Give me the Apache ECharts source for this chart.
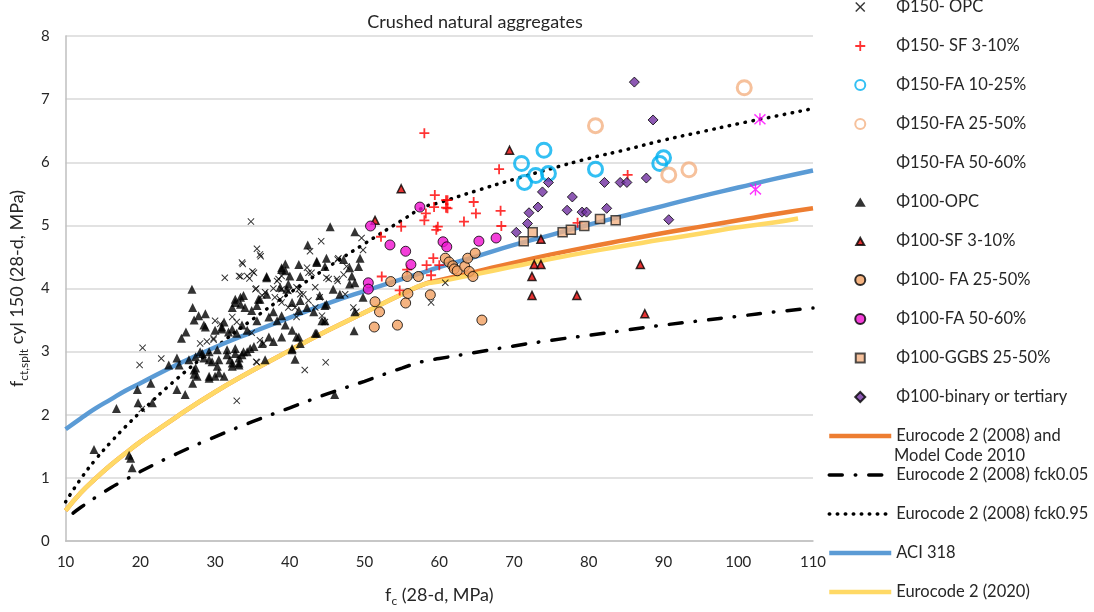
<!DOCTYPE html>
<html>
<head>
<meta charset="utf-8">
<script src="https://cdn.jsdelivr.net/npm/echarts@6/dist/echarts.min.js"></script>
<style>
  html, body { margin: 0; padding: 0; background: #fff; }
  #chart { width: 1094px; height: 612px; }
</style>
</head>
<body>
<div id="chart"></div>
<script>
// --- data: [fc (MPa), fct,splt (MPa)] ---
const opc150 = [
  [20.3,3.06],[19.9,2.79],[22.8,2.89],[20.2,2.09],[32.9,2.22],[35.6,2.83],[28.0,3.13],[28.9,3.16],[29.8,3.19],
  [34.8,5.06],[35.6,4.63],[36.1,4.51],[33.7,4.39],[35.0,4.27],[31.3,4.17],[33.4,4.19],[34.6,4.16],[35.5,4.00],
  [36.3,3.89],[38.5,4.15],[37.8,4.00],[38.9,3.99],[38.0,3.86],[38.7,3.83],[39.8,3.96],[40.9,4.02],[41.4,3.91],
  [42.7,4.59],[42.3,4.33],[42.5,4.25],[44.2,4.75],[44.9,4.17],[46.4,4.46],[46.4,4.12],[44.0,3.86],[44.3,3.57],
  [44.7,3.47],[44.8,2.83],[42.0,2.71],[35.5,2.84],[30.0,3.49],[30.7,3.44],[29.8,3.21],[36.0,3.18],[36.5,3.13],
  [34.9,3.30],[32.3,3.55],[32.9,3.47],[38.9,3.78],[39.8,3.70],[40.7,3.70],[40.9,3.55],[42.5,3.81],[43.4,3.70],
  [33.6,4.41],[36.0,4.54],[33.2,4.20],[34.3,4.20],[35.2,4.25],[35.4,3.99],[36.7,3.94],[38.3,4.12],[38.9,4.20],
  [42.9,4.25],[45.2,4.15],[43.4,4.02],[41.2,3.99],[41.8,3.91],[49.6,4.80],[49.8,4.61],[46.5,4.48],[47.6,4.35],
  [47.2,4.22],[46.3,4.15],[47.4,3.91],[48.5,3.70],[48.9,3.63],[58.9,3.78],[60.8,4.09]
];
const sf150 = [
  [58.0,6.46],[59.4,5.48],[60.9,5.40],[60.9,5.28],[59.3,5.29],[64.6,5.37],[64.9,5.19],[58.2,5.19],[61.1,5.40],
  [61.1,5.27],[58.0,5.08],[63.3,5.06],[59.8,4.98],[59.6,4.93],[54.9,4.98],[52.2,4.82],[59.2,4.48],[58.3,4.37],
  [60.0,4.37],[58.9,4.21],[52.3,4.19],[54.7,3.97],[55.7,4.30],[68.0,5.89],[68.2,5.23],[68.3,4.99],[78.5,5.04],
  [85.2,5.80]
];
const fa150Low = [[71.0,5.98],[74.0,6.19],[71.4,5.68],[72.9,5.79],[74.6,5.82],[80.9,5.89],[90.0,6.07],[89.5,5.98]];
const fa150Mid = [[80.9,6.58],[100.8,7.18],[90.7,5.80],[93.4,5.88]];
const fa150High = [[102.9,6.68],[102.3,5.57]];
const opc100 = [
  [26.1,3.31],[25.5,3.21],[13.8,1.45],[16.8,2.10],[18.5,1.36],[18.7,1.31],[18.9,1.16],[19.6,2.40],[19.7,2.19],
  [21.4,2.50],[21.6,2.19],[23.8,2.79],[24.9,2.90],[25.2,2.79],[24.9,2.40],[26.0,2.32],[27.2,2.71],[27.6,2.61],
  [27.0,2.50],[28.0,3.00],[28.5,2.90],[29.2,2.87],[29.2,2.61],[30.0,2.61],[30.5,2.66],[30.3,2.77],[31.2,2.61],
  [31.6,2.95],[32.0,2.87],[32.7,2.97],[33.2,2.90],[33.6,2.95],[34.3,3.00],[32.3,2.77],[33.2,2.82],[34.7,3.05],
  [35.2,3.08],[31.8,3.31],[32.9,3.29],[30.0,3.34],[30.9,3.36],[28.7,3.39],[26.9,3.99],[27.0,3.70],[27.8,3.57],
  [27.2,3.50],[45.4,4.98],[42.4,4.69],[43.6,4.43],[44.9,4.48],[41.2,4.38],[39.4,4.39],[38.9,4.30],[36.9,4.19],
  [40.0,4.20],[41.4,4.19],[39.8,4.07],[39.6,3.99],[38.7,4.02],[36.9,3.91],[35.8,3.83],[33.8,3.89],[32.7,3.83],
  [33.4,3.75],[32.3,3.70],[28.7,3.60],[28.5,3.42],[31.2,3.47],[30.9,3.39],[33.6,3.42],[34.3,3.34],[32.3,3.36],
  [35.6,3.49],[37.2,3.55],[37.8,3.63],[38.3,3.49],[38.9,3.57],[39.4,3.42],[40.3,3.34],[40.9,3.23],[41.2,3.65],
  [42.3,3.70],[43.2,3.63],[44.7,3.73],[44.3,3.49],[43.6,3.29],[37.2,3.23],[37.8,3.16],[38.9,3.23],[36.3,3.13],
  [33.8,3.00],[32.7,3.05],[31.6,3.03],[30.3,3.03],[29.2,3.00],[28.3,2.97],[27.4,2.92],[30.5,2.87],[29.6,2.84],
  [29.2,2.58],[27.4,2.74],[27.2,2.64],[26.5,2.87],[32.3,2.82],[33.2,2.79],[36.7,2.87],[40.3,3.03],[40.7,2.88],
  [41.2,3.23],[41.4,3.13],[34.0,3.70],[34.9,3.65],[38.9,4.33],[39.4,4.28],[43.6,4.41],[36.9,4.17],[33.4,3.86],
  [32.7,3.78],[36.0,3.83],[35.6,3.73],[40.3,3.78],[41.4,3.81],[44.0,3.89],[43.4,3.29],[40.3,3.05],[48.7,4.90],
  [44.7,4.35],[47.2,4.46],[48.0,4.33],[49.4,4.48],[49.2,4.35],[48.3,4.20],[48.7,4.09],[48.0,4.07],[45.8,3.99],
  [46.7,3.91],[44.9,3.75],[44.7,3.49],[49.8,3.86],[48.7,3.63],[48.6,3.33],[46.0,2.32]
];
const sf100 = [
  [69.4,6.19],[73.6,4.78],[72.7,4.38],[73.6,4.38],[72.4,4.19],[72.4,3.89],[78.4,3.89],[86.9,4.38],[87.5,3.60],
  [54.9,5.58],[51.4,5.08]
];
const fa100Mid = [
  [53.5,4.11],[55.7,4.19],[57.2,4.19],[55.8,3.92],[55.5,3.77],[51.4,3.79],[52.0,3.63],[51.3,3.39],[54.4,3.42],
  [58.8,3.90],[60.8,4.48],[61.3,4.42],[61.8,4.36],[62.0,4.31],[62.4,4.28],[63.4,4.35],[63.8,4.48],[64.8,4.56],
  [64.0,4.27],[64.5,4.19],[65.7,3.50]
];
const fa100High = [
  [50.8,4.99],[57.4,5.29],[53.4,4.69],[55.5,4.59],[56.2,4.38],[50.5,4.09],[50.5,3.99],[60.5,4.74],[61.0,4.66],
  [65.3,4.75],[67.6,4.80]
];
const ggbs100 = [[71.3,4.75],[72.5,4.89],[76.5,4.89],[77.6,4.93],[79.4,4.99],[81.5,5.10],[83.6,5.08]];
const binary100 = [
  [86.1,7.27],[88.6,6.67],[74.6,5.68],[73.8,5.53],[73.2,5.29],[72.0,5.20],[71.8,5.03],[70.3,4.89],[77.8,5.45],
  [77.1,5.24],[79.1,5.21],[79.7,5.21],[82.4,5.27],[82.1,5.68],[84.2,5.68],[85.1,5.68],[87.7,5.75],[90.7,5.09]
];

// design curves
const fcCurve = [10, 12, 14, 16, 18, 20, 25, 30, 35, 40, 45, 50, 55, 58, 60, 65, 70, 75, 80, 85, 90, 95, 100, 105, 110];
const ec2008 = [0.48, 0.76, 0.99, 1.20, 1.39, 1.57, 1.98, 2.36, 2.70, 3.02, 3.33, 3.62, 3.91, 4.07, 4.13, 4.27, 4.41, 4.54, 4.66, 4.77, 4.88, 4.98, 5.08, 5.18, 5.27];
const fcLow005 = [11, 12, 14, 16, 18, 20, 25, 30, 35, 40, 45, 50, 55, 58, 60, 65, 70, 75, 80, 85, 90, 95, 100, 105, 110];
const ec2008k005 = [0.44, 0.53, 0.69, 0.84, 0.97, 1.10, 1.39, 1.65, 1.89, 2.11, 2.33, 2.53, 2.74, 2.85, 2.89, 2.99, 3.09, 3.18, 3.26, 3.34, 3.42, 3.49, 3.56, 3.63, 3.69];
const ec2008k095 = [0.62, 0.98, 1.29, 1.56, 1.81, 2.04, 2.58, 3.06, 3.51, 3.93, 4.33, 4.71, 5.08, 5.29, 5.36, 5.55, 5.73, 5.90, 6.06, 6.20, 6.35, 6.48, 6.61, 6.73, 6.85];
const aci318 = [1.77, 1.94, 2.10, 2.24, 2.38, 2.50, 2.80, 3.07, 3.31, 3.54, 3.76, 3.96, 4.15, 4.26, 4.34, 4.51, 4.69, 4.85, 5.01, 5.16, 5.31, 5.46, 5.60, 5.74, 5.87];
const fc2020 = [10, 12, 14, 16, 18, 20, 25, 30, 35, 40, 45, 50, 55, 58, 60, 65, 70, 75, 80, 85, 90, 95, 100, 105, 108];
const ec2020 = [0.48, 0.76, 0.99, 1.20, 1.39, 1.57, 1.98, 2.36, 2.70, 3.02, 3.33, 3.62, 3.91, 4.07, 4.11, 4.23, 4.35, 4.47, 4.58, 4.68, 4.78, 4.87, 4.97, 5.05, 5.11];

const xTicks = [10, 20, 30, 40, 50, 60, 70, 80, 90, 100, 110];
const yTicks = [0, 1, 2, 3, 4, 5, 6, 7, 8];

const FONT = 'Lato, "Liberation Sans", sans-serif';
const INK = '#262626';
const EC2008_NAME = 'Eurocode 2 (2008) and Model Code 2010';

const CROSS = 'path://M0,1L1,0L5,4L9,0L10,1L6,5L10,9L9,10L5,6L1,10L0,9L4,5Z';
const PLUS = 'path://M4.1,0H5.9V4.1H10V5.9H5.9V10H4.1V5.9H0V4.1H4.1Z';
const STAR = 'path://M4.4,0H5.6V10H4.4Z M0,1.4L0.8,0.4L5,4.3L9.2,0.4L10,1.4L5.9,5L10,8.6L9.2,9.6L5,5.7L0.8,9.6L0,8.6L4.1,5Z';

// legend icons get stretched to the 62x10 legend box, so draw them inside that box
const BOX = 'M0,0M62,10';
const LEGEND_ICONS = {
  'Φ100-OPC': 'path://' + BOX + 'M25.5,9.8L31,0.6L36.5,9.8Z',
  'Φ100-SF 3-10%': 'path://' + BOX + 'M27,9L31,1.8L35,9Z',
  'Φ100-GGBS 25-50%': 'path://' + BOX + 'M26.5,0.5H35.5V9.5H26.5Z',
  'Φ100-binary or tertiary': 'path://' + BOX + 'M26,5L31,0L36,5L31,10Z'
};

const pairs = (xs, ys) => xs.map((x, i) => [x, ys[i]]);

function scatter(name, data, symbol, size, itemStyle) {
  return { name, type: 'scatter', data, symbol, symbolSize: size, symbolKeepAspect: true, itemStyle, z: 3 };
}

function curve(name, xs, ys, lineStyle) {
  return {
    name, type: 'line', data: pairs(xs, ys), smooth: true, symbol: 'none', showSymbol: false,
    // hide the marker that the legend would otherwise put on the line icon
    itemStyle: { color: lineStyle.color, opacity: 0 },
    lineStyle, z: 2
  };
}

const series = [
  scatter('Φ150- OPC', opc150, CROSS, 7, { color: '#000' }),
  scatter('Φ150- SF 3-10%', sf150, PLUS, 10, { color: '#FF0000' }),
  scatter('Φ150-FA 10-25%', fa150Low, 'circle', 14, { color: 'rgba(0,0,0,0)', borderColor: '#00B0F0', borderWidth: 3 }),
  scatter('Φ150-FA 25-50%', fa150Mid, 'circle', 14, { color: 'rgba(0,0,0,0)', borderColor: '#F4B183', borderWidth: 3 }),
  scatter('Φ150-FA 50-60%', fa150High, STAR, 12, { color: '#FF00FF' }),
  scatter('Φ100-OPC', opc100, 'triangle', 9, { color: '#000' }),
  scatter('Φ100-SF 3-10%', sf100, 'triangle', 8, { color: '#E00000', borderColor: '#000', borderWidth: 1.5 }),
  scatter('Φ100- FA 25-50%', fa100Mid, 'circle', 10, { color: '#F1A062', borderColor: '#000', borderWidth: 1 }),
  scatter('Φ100-FA 50-60%', fa100High, 'circle', 10, { color: '#F010D0', borderColor: '#000', borderWidth: 1 }),
  scatter('Φ100-GGBS 25-50%', ggbs100, 'rect', 9, { color: '#F4B183', borderColor: '#222', borderWidth: 1.5 }),
  scatter('Φ100-binary or tertiary', binary100, 'diamond', 10, { color: '#7030A0', borderColor: '#000', borderWidth: 1 }),
  curve(EC2008_NAME, fcCurve, ec2008, { color: '#ED7D31', width: 4.5 }),
  curve('Eurocode 2 (2008) fck0.05', fcLow005, ec2008k005, { color: '#000', width: 3.5, type: [13, 13, 0.5, 13], cap: 'round' }),
  curve('Eurocode 2 (2008) fck0.95', fcCurve, ec2008k095, { color: '#000', width: 3.5, type: [0.5, 7.5], cap: 'round' }),
  curve('ACI 318', fcCurve, aci318, { color: '#5B9BD5', width: 4.5 }),
  curve('Eurocode 2 (2020)', fc2020, ec2020, { color: '#FFD966', width: 4.5 })
];

const legendData = series.map(s => {
  const item = { name: s.name };
  if (s.name === 'Φ150-FA 50-60%') item.itemStyle = { opacity: 0 };
  if (LEGEND_ICONS[s.name]) item.icon = LEGEND_ICONS[s.name];
  if (s.type === 'line') item.lineStyle = { width: s.lineStyle.width };
  return item;
});

const chart = echarts.init(document.getElementById('chart'));

chart.setOption({
  animation: false,
  backgroundColor: '#fff',
  textStyle: { fontFamily: FONT },
  title: {
    text: 'Crushed natural aggregates',
    left: 470,
    top: 8,
    textAlign: 'center',
    textStyle: { fontFamily: FONT, fontSize: 18, fontWeight: 'normal', color: INK }
  },
  grid: { left: 63, right: 281, top: 36, bottom: 65 },
  legend: {
    orient: 'vertical',
    left: 827,
    top: -3,
    padding: 0,
    itemWidth: 62,
    itemHeight: 10,
    itemGap: 19,
    textStyle: { fontFamily: FONT, fontSize: 16.5, color: INK, lineHeight: 20 },
    formatter: name => (name === EC2008_NAME ? 'Eurocode 2 (2008) and' : name),
    data: legendData
  },
  graphic: [{
    type: 'text',
    left: 894,
    top: 447,
    style: { text: 'Model Code 2010', font: '16.5px ' + FONT, fill: INK }
  }],
  xAxis: {
    type: 'value',
    min: xTicks[0],
    max: xTicks[xTicks.length - 1],
    interval: 10,
    name: '{n|f}{s|c}{n| (28-d, MPa)}',
    nameLocation: 'middle',
    nameGap: 42,
    nameTextStyle: {
      rich: {
        n: { fontFamily: FONT, fontSize: 18, color: INK, lineHeight: 24 },
        s: { fontFamily: FONT, fontSize: 12, color: INK, lineHeight: 24, verticalAlign: 'bottom' }
      }
    },
    axisLine: { lineStyle: { color: '#BFBFBF', width: 1.5 } },
    axisTick: { show: false },
    splitLine: { show: false },
    axisLabel: { fontFamily: FONT, fontSize: 15, color: INK, margin: 14 }
  },
  yAxis: {
    type: 'value',
    min: yTicks[0],
    max: yTicks[yTicks.length - 1],
    interval: 1,
    name: '{n|f}{s|ct,splt}{n| cyl 150 (28-d, MPa)}',
    nameLocation: 'middle',
    nameGap: 31,
    nameTextStyle: {
      rich: {
        n: { fontFamily: FONT, fontSize: 18, color: INK, lineHeight: 26 },
        s: { fontFamily: FONT, fontSize: 12, color: INK, lineHeight: 26, verticalAlign: 'bottom' }
      }
    },
    axisLine: { show: true, lineStyle: { color: '#BFBFBF', width: 1.5 } },
    axisTick: { show: false },
    splitLine: { lineStyle: { color: '#D9D9D9', width: 1.5 } },
    axisLabel: { fontFamily: FONT, fontSize: 15, color: INK, margin: 16 }
  },
  series
});
</script>
</body>
</html>
